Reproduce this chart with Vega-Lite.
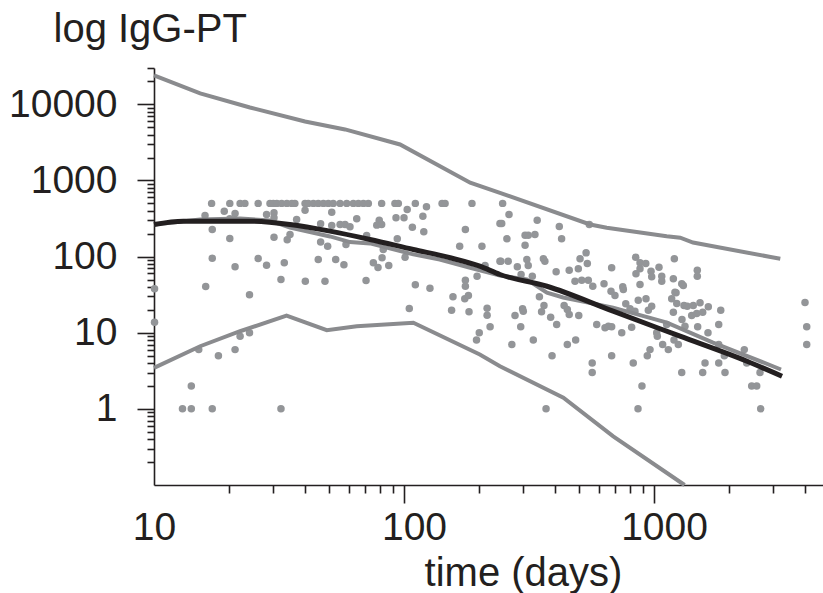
{
  "$schema": "https://vega.github.io/schema/vega-lite/v6.json",
  "autosize": {"type": "none"},
  "padding": {"left": 154, "top": 68, "right": 0, "bottom": 108},
  "width": 669,
  "height": 417,
  "config": {
    "view": {"stroke": null},
    "font": "Liberation Sans",
    "axis": {"domainColor": "#231f20", "domainWidth": 1.6, "tickColor": "#231f20", "tickWidth": 1.6, "labelColor": "#231f20", "titleColor": "#231f20", "labelFont": "Liberation Sans", "titleFont": "Liberation Sans", "grid": false}
  },
  "datasets": {
    "points": [
      {"t": 17.0, "igg": 500}, {"t": 20.1, "igg": 500}, {"t": 22.1, "igg": 500}, {"t": 23.1, "igg": 500}, {"t": 26.1, "igg": 500},
      {"t": 29.1, "igg": 500}, {"t": 30.0, "igg": 500}, {"t": 31.0, "igg": 500}, {"t": 32.4, "igg": 500}, {"t": 34.0, "igg": 500},
      {"t": 35.6, "igg": 500}, {"t": 36.6, "igg": 500}, {"t": 40.2, "igg": 500}, {"t": 41.4, "igg": 500}, {"t": 43.4, "igg": 500},
      {"t": 45.4, "igg": 500}, {"t": 47.6, "igg": 500}, {"t": 49.8, "igg": 500}, {"t": 52.1, "igg": 500}, {"t": 55.5, "igg": 500},
      {"t": 59.0, "igg": 500}, {"t": 62.7, "igg": 500}, {"t": 65.7, "igg": 500}, {"t": 68.8, "igg": 500}, {"t": 72.0, "igg": 500},
      {"t": 81.4, "igg": 500}, {"t": 92.0, "igg": 500}, {"t": 94.9, "igg": 500}, {"t": 111, "igg": 500}, {"t": 123, "igg": 450},
      {"t": 142, "igg": 500}, {"t": 146, "igg": 500}, {"t": 187, "igg": 500}, {"t": 248, "igg": 500},
      {"t": 16.0, "igg": 347}, {"t": 19.1, "igg": 395}, {"t": 21.1, "igg": 368}, {"t": 20.1, "igg": 314}, {"t": 28.2, "igg": 357},
      {"t": 30.2, "igg": 376}, {"t": 30.2, "igg": 324}, {"t": 40.2, "igg": 407}, {"t": 37.2, "igg": 307}, {"t": 51.4, "igg": 383},
      {"t": 64.7, "igg": 314}, {"t": 79.6, "igg": 301}, {"t": 77.8, "igg": 259}, {"t": 81.4, "igg": 264}, {"t": 92.9, "igg": 324},
      {"t": 100, "igg": 324}, {"t": 103, "igg": 416}, {"t": 119, "igg": 339}, {"t": 108, "igg": 243}, {"t": 120, "igg": 212},
      {"t": 176, "igg": 227}, {"t": 46.4, "igg": 270}, {"t": 51.4, "igg": 256}, {"t": 55.5, "igg": 264}, {"t": 58.1, "igg": 264},
      {"t": 60.8, "igg": 246}, {"t": 17.1, "igg": 227}, {"t": 20.1, "igg": 173}, {"t": 30.2, "igg": 180}, {"t": 34.1, "igg": 166},
      {"t": 35.0, "igg": 195}, {"t": 46.4, "igg": 155}, {"t": 49.5, "igg": 137}, {"t": 58.6, "igg": 144}, {"t": 70.9, "igg": 189},
      {"t": 82.6, "igg": 124}, {"t": 94.0, "igg": 171}, {"t": 101, "igg": 98}, {"t": 167, "igg": 137}, {"t": 205, "igg": 137},
      {"t": 242, "igg": 272}, {"t": 17.1, "igg": 95.3}, {"t": 21.1, "igg": 73.5}, {"t": 26.1, "igg": 94.4}, {"t": 28.2, "igg": 77.1},
      {"t": 33.2, "igg": 82.9}, {"t": 45.4, "igg": 91.6}, {"t": 53.3, "igg": 91.6}, {"t": 57.5, "igg": 78.0}, {"t": 75.4, "igg": 82.9},
      {"t": 78.7, "igg": 71.9}, {"t": 81.7, "igg": 96.4}, {"t": 86.9, "igg": 76.4}, {"t": 32.2, "igg": 50.0}, {"t": 40.3, "igg": 47.5},
      {"t": 48.3, "igg": 47.5}, {"t": 70.5, "igg": 48.5}, {"t": 16.1, "igg": 40.5}, {"t": 24.1, "igg": 31.5}, {"t": 111, "igg": 42.6},
      {"t": 127, "igg": 38.5}, {"t": 176, "igg": 49.0}, {"t": 176, "igg": 40.8}, {"t": 196, "igg": 55.2}, {"t": 211, "igg": 76.4},
      {"t": 242, "igg": 87.1}, {"t": 157, "igg": 29.6}, {"t": 175, "igg": 27.9}, {"t": 181, "igg": 30.8}, {"t": 105, "igg": 20.8},
      {"t": 155, "igg": 19.8}, {"t": 182, "igg": 18.8}, {"t": 215, "igg": 21.0}, {"t": 215, "igg": 17.0}, {"t": 221, "igg": 12.0},
      {"t": 200, "igg": 10}, {"t": 195, "igg": 8}, {"t": 10.05, "igg": 37.8}, {"t": 10.05, "igg": 13.7}, {"t": 15.1, "igg": 6},
      {"t": 18.1, "igg": 5}, {"t": 21.1, "igg": 6}, {"t": 22.1, "igg": 9}, {"t": 24.1, "igg": 10}, {"t": 14.1, "igg": 2},
      {"t": 13.0, "igg": 1}, {"t": 14.1, "igg": 1}, {"t": 17.1, "igg": 1}, {"t": 32.2, "igg": 1},
      {"t": 263, "igg": 357}, {"t": 246, "igg": 272}, {"t": 341, "igg": 301}, {"t": 418, "igg": 249}, {"t": 551, "igg": 264},
      {"t": 258, "igg": 171}, {"t": 305, "igg": 191}, {"t": 314, "igg": 191}, {"t": 334, "igg": 195}, {"t": 305, "igg": 141},
      {"t": 427, "igg": 171}, {"t": 535, "igg": 112}, {"t": 506, "igg": 93.5}, {"t": 541, "igg": 81.2}, {"t": 361, "igg": 93.5},
      {"t": 366, "igg": 87.1}, {"t": 310, "igg": 91.6}, {"t": 314, "igg": 76.4}, {"t": 284, "igg": 73.5}, {"t": 244, "igg": 87.1},
      {"t": 261, "igg": 87.1}, {"t": 294, "igg": 58.2}, {"t": 326, "igg": 55.2}, {"t": 406, "igg": 63.1}, {"t": 458, "igg": 66.2},
      {"t": 498, "igg": 69.2}, {"t": 677, "igg": 71.3}, {"t": 845, "igg": 98}, {"t": 879, "igg": 82.9}, {"t": 927, "igg": 81.2},
      {"t": 879, "igg": 69.2}, {"t": 847, "igg": 59.4}, {"t": 973, "igg": 64.3}, {"t": 1047, "igg": 72.6}, {"t": 1206, "igg": 93.5},
      {"t": 1490, "igg": 66.2}, {"t": 1490, "igg": 55.2}, {"t": 483, "igg": 47.5}, {"t": 514, "igg": 49.0}, {"t": 546, "igg": 49.0},
      {"t": 569, "igg": 40.8}, {"t": 631, "igg": 44.0}, {"t": 673, "igg": 35.1}, {"t": 698, "igg": 30.8}, {"t": 750, "igg": 40.1},
      {"t": 754, "igg": 37.0}, {"t": 879, "igg": 43.0}, {"t": 979, "igg": 54.3}, {"t": 1074, "igg": 55.2}, {"t": 1074, "igg": 47.5},
      {"t": 1195, "igg": 51.1}, {"t": 1291, "igg": 44.0}, {"t": 1310, "igg": 41.7}, {"t": 1225, "igg": 33.4}, {"t": 1177, "igg": 27.9},
      {"t": 1233, "igg": 24.2}, {"t": 1318, "igg": 22.8}, {"t": 865, "igg": 26.7}, {"t": 929, "igg": 27.9}, {"t": 979, "igg": 22.3},
      {"t": 949, "igg": 19.8}, {"t": 771, "igg": 24.0}, {"t": 802, "igg": 20.6}, {"t": 839, "igg": 19.2}, {"t": 1195, "igg": 18.6},
      {"t": 1294, "igg": 14.9}, {"t": 1359, "igg": 22.3}, {"t": 1436, "igg": 22.8}, {"t": 1528, "igg": 24.7}, {"t": 1649, "igg": 21.9},
      {"t": 1415, "igg": 16.8}, {"t": 1482, "igg": 17.9}, {"t": 1566, "igg": 18.6}, {"t": 1849, "igg": 19.8}, {"t": 1213, "igg": 34.0},
      {"t": 1330, "igg": 12.2}, {"t": 278, "igg": 16.8}, {"t": 298, "igg": 20.6}, {"t": 300, "igg": 19.2}, {"t": 293, "igg": 12.0},
      {"t": 348, "igg": 29.6}, {"t": 363, "igg": 22.8}, {"t": 355, "igg": 18.8}, {"t": 386, "igg": 16.0}, {"t": 408, "igg": 12.8},
      {"t": 437, "igg": 22.8}, {"t": 450, "igg": 20.2}, {"t": 458, "igg": 17.3}, {"t": 500, "igg": 16.8}, {"t": 590, "igg": 12.8},
      {"t": 637, "igg": 11.6}, {"t": 657, "igg": 12.2}, {"t": 677, "igg": 12.0}, {"t": 743, "igg": 10}, {"t": 814, "igg": 11.8},
      {"t": 1025, "igg": 10}, {"t": 1031, "igg": 9}, {"t": 1124, "igg": 12.8}, {"t": 1495, "igg": 12}, {"t": 1644, "igg": 10},
      {"t": 1815, "igg": 12.8}, {"t": 270, "igg": 7}, {"t": 329, "igg": 8}, {"t": 450, "igg": 7}, {"t": 486, "igg": 8},
      {"t": 391, "igg": 5}, {"t": 566, "igg": 4}, {"t": 566, "igg": 3}, {"t": 677, "igg": 5}, {"t": 826, "igg": 4},
      {"t": 964, "igg": 6}, {"t": 940, "igg": 5}, {"t": 1083, "igg": 7}, {"t": 1141, "igg": 6}, {"t": 1202, "igg": 8},
      {"t": 1251, "igg": 7}, {"t": 1600, "igg": 4}, {"t": 1566, "igg": 3}, {"t": 1291, "igg": 3}, {"t": 895, "igg": 2},
      {"t": 1815, "igg": 7}, {"t": 1911, "igg": 5}, {"t": 1815, "igg": 4}, {"t": 1923, "igg": 3}, {"t": 2297, "igg": 6},
      {"t": 2349, "igg": 4}, {"t": 2655, "igg": 3}, {"t": 2459, "igg": 2}, {"t": 2575, "igg": 2}, {"t": 2672, "igg": 1},
      {"t": 370, "igg": 1}, {"t": 863, "igg": 1}, {"t": 4018, "igg": 25}, {"t": 4082, "igg": 12}, {"t": 4082, "igg": 7}
    ],
    "lines": [
      {"series": "upper", "t": 10, "igg": 24000}, {"series": "upper", "t": 15.3, "igg": 13900}, {"series": "upper", "t": 24.2, "igg": 9100},
      {"series": "upper", "t": 40.2, "igg": 5960}, {"series": "upper", "t": 58.1, "igg": 4680}, {"series": "upper", "t": 96.4, "igg": 2970},
      {"series": "upper", "t": 184, "igg": 933}, {"series": "upper", "t": 242, "igg": 689}, {"series": "upper", "t": 555, "igg": 264},
      {"series": "upper", "t": 647, "igg": 239}, {"series": "upper", "t": 1124, "igg": 185}, {"series": "upper", "t": 1273, "igg": 177},
      {"series": "upper", "t": 1432, "igg": 153}, {"series": "upper", "t": 3200, "igg": 93.5},
      {"series": "lower", "t": 10, "igg": 3.46}, {"series": "lower", "t": 15.3, "igg": 6.65}, {"series": "lower", "t": 22.1, "igg": 10.46},
      {"series": "lower", "t": 33.9, "igg": 16.8}, {"series": "lower", "t": 49.1, "igg": 10.8}, {"series": "lower", "t": 64.7, "igg": 12.2},
      {"series": "lower", "t": 109, "igg": 13.5}, {"series": "lower", "t": 201, "igg": 5.17}, {"series": "lower", "t": 242, "igg": 3.63},
      {"series": "lower", "t": 434, "igg": 1.40}, {"series": "lower", "t": 687, "igg": 0.436}, {"series": "lower", "t": 1325, "igg": 0.1},
      {"series": "mid", "t": 10, "igg": 264}, {"series": "mid", "t": 15.3, "igg": 307}, {"series": "mid", "t": 22.1, "igg": 317},
      {"series": "mid", "t": 29.1, "igg": 298}, {"series": "mid", "t": 35.0, "igg": 241}, {"series": "mid", "t": 50.6, "igg": 184},
      {"series": "mid", "t": 60.8, "igg": 155}, {"series": "mid", "t": 73.1, "igg": 149}, {"series": "mid", "t": 109, "igg": 107},
      {"series": "mid", "t": 139, "igg": 91.6}, {"series": "mid", "t": 184, "igg": 71.3}, {"series": "mid", "t": 242, "igg": 56.5},
      {"series": "mid", "t": 310, "igg": 50.0}, {"series": "mid", "t": 373, "igg": 33.7}, {"series": "mid", "t": 433, "igg": 29.0},
      {"series": "mid", "t": 686, "igg": 21.4}, {"series": "mid", "t": 1127, "igg": 13.6}, {"series": "mid", "t": 1722, "igg": 7.43},
      {"series": "mid", "t": 3221, "igg": 3.29}
    ],
    "fit": [
      {"t": 10, "igg": 264}, {"t": 13.1, "igg": 292}, {"t": 24.2, "igg": 292}, {"t": 35.0, "igg": 264}, {"t": 50.6, "igg": 216},
      {"t": 73.1, "igg": 168}, {"t": 109, "igg": 124}, {"t": 153, "igg": 96.5}, {"t": 201, "igg": 74.8}, {"t": 242, "igg": 58.2},
      {"t": 373, "igg": 40.8}, {"t": 686, "igg": 19.2}, {"t": 1271, "igg": 9.0}, {"t": 2355, "igg": 4.22}, {"t": 3251, "igg": 2.68}
    ]
  },
  "encoding": {
    "x": {
      "field": "t", "type": "quantitative",
      "scale": {"type": "log", "domain": [10, 4742], "nice": false},
      "axis": {
        "title": "time (days)", "titleFontSize": 40, "titleFontWeight": "normal",
        "titleAngle": 0, "titleX": 369, "titleY": 100, "titleAlign": "center", "titleBaseline": "alphabetic",
        "values": [10, 20, 30, 40, 50, 60, 70, 80, 90, 100, 200, 300, 400, 500, 600, 700, 800, 900, 1000, 2000, 3000, 4000],
        "labelExpr": "indexof([10,100,1000], datum.value) >= 0 ? '' + datum.value : ''",
        "labelFontSize": 39, "labelBaseline": "top", "labelOverlap": false, "labelFlush": false,
        "labelPadding": {"condition": {"test": "datum.value == 10", "value": 15}, "value": 5},
        "labelOffset": {"condition": {"test": "datum.value == 10", "value": 0}, "value": 10},
        "tickSize": {"condition": {"test": "datum.value == 100 || datum.value == 1000", "value": 18}, "value": 8},
        "tickOpacity": {"condition": {"test": "datum.value == 10", "value": 0}, "value": 1}
      }
    },
    "y": {
      "field": "igg", "type": "quantitative",
      "scale": {"type": "log", "domain": [0.1, 30000], "nice": false},
      "axis": {
        "title": "log IgG-PT", "titleFontSize": 40, "titleFontWeight": "normal",
        "titleAngle": 0, "titleX": -101, "titleY": -27, "titleAlign": "left", "titleBaseline": "alphabetic",
        "values": [0.2, 0.3, 0.4, 0.5, 0.6, 0.7, 0.8, 0.9, 1, 2, 3, 4, 5, 6, 7, 8, 9, 10, 20, 30, 40, 50, 60, 70, 80, 90, 100, 200, 300, 400, 500, 600, 700, 800, 900, 1000, 2000, 3000, 4000, 5000, 6000, 7000, 8000, 9000, 10000, 20000, 30000],
        "labelExpr": "indexof([1,10,100,1000,10000], datum.value) >= 0 ? '' + datum.value : ''",
        "labelFontSize": 39, "labelBaseline": "middle", "labelPadding": 20, "labelOverlap": false, "labelFlush": false,
        "tickSize": {"condition": {"test": "datum.value == 1 || datum.value == 10 || datum.value == 100 || datum.value == 1000 || datum.value == 10000", "value": 17}, "value": 7}
      }
    }
  },
  "layer": [
    {
      "data": {"name": "points"},
      "mark": {"type": "circle", "size": 56, "color": "#939598", "opacity": 1}
    },
    {
      "data": {"name": "lines"},
      "mark": {"type": "line", "color": "#8a8b8e", "strokeWidth": 4},
      "encoding": {"detail": {"field": "series", "type": "nominal"}}
    },
    {
      "data": {"name": "fit"},
      "mark": {"type": "line", "color": "#231f20", "strokeWidth": 5, "interpolate": "monotone"},
      "encoding": {}
    }
  ]
}
